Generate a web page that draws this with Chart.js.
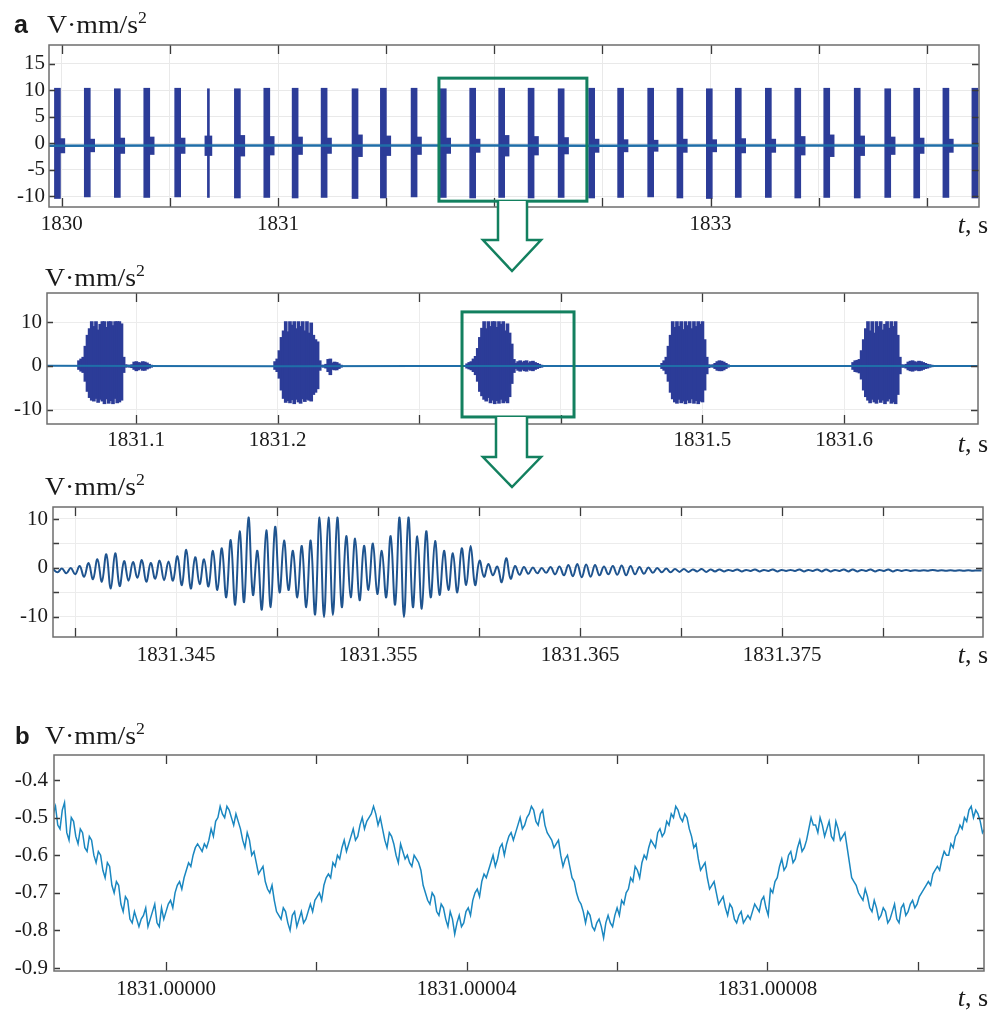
<!DOCTYPE html>
<html>
<head>
<meta charset="utf-8">
<script src="https://cdn.jsdelivr.net/npm/chart.js@4.4.1/dist/chart.umd.min.js"></script>
<style>
  html, body { margin: 0; background: #fff; }
  #wrap { position: relative; width: 1005px; height: 1010px; overflow: hidden; }
  canvas { position: absolute; left: 0; }
  svg { position: absolute; left: 0; top: 0; pointer-events: none; }
</style>
</head>
<body>
<div id="wrap">
  <canvas id="cA" width="1005" height="205" style="top:40px"></canvas>
  <canvas id="cB" width="1005" height="170" style="top:288px"></canvas>
  <canvas id="cC" width="1005" height="170" style="top:502px"></canvas>
  <canvas id="cD" width="1005" height="255" style="top:750px"></canvas>
  <svg width="1005" height="1010" font-family="'Liberation Serif', 'Times New Roman', serif" fill="#1a1a1a">
    <text x="14" y="33" font-family="'Liberation Sans', Arial, sans-serif" font-weight="bold" font-size="25">a</text>
    <text x="47" y="33" font-size="25" textLength="100" lengthAdjust="spacingAndGlyphs">V·mm/s<tspan dy="-10" font-size="16">2</tspan></text>
    <text x="45" y="286" font-size="25" textLength="100" lengthAdjust="spacingAndGlyphs">V·mm/s<tspan dy="-10" font-size="16">2</tspan></text>
    <text x="45" y="495" font-size="25" textLength="100" lengthAdjust="spacingAndGlyphs">V·mm/s<tspan dy="-10" font-size="16">2</tspan></text>
    <text x="15" y="744" font-family="'Liberation Sans', Arial, sans-serif" font-weight="bold" font-size="24">b</text>
    <text x="45" y="744" font-size="25" textLength="100" lengthAdjust="spacingAndGlyphs">V·mm/s<tspan dy="-10" font-size="16">2</tspan></text>
    <text x="988" y="233" font-size="26" text-anchor="end"><tspan font-style="italic">t</tspan>, s</text>
    <text x="988" y="452" font-size="26" text-anchor="end"><tspan font-style="italic">t</tspan>, s</text>
    <text x="988" y="663" font-size="26" text-anchor="end"><tspan font-style="italic">t</tspan>, s</text>
    <text x="988" y="1006" font-size="26" text-anchor="end"><tspan font-style="italic">t</tspan>, s</text>
    <path d="M498,201 L498,240 L483,240 L512,271 L541,240 L527,240 L527,201" fill="#fff" stroke="#13805f" stroke-width="2.5" stroke-linejoin="miter"/>
    <path d="M496,417 L496,457 L483,457 L512,487 L541,457 L527,457 L527,417" fill="#fff" stroke="#13805f" stroke-width="2.5" stroke-linejoin="miter"/>
  </svg>
</div>
<script>
// ---- panel a (top): overview, 1830..1834 s ----
const aXLabels = [1830, 1831, 1833];
const aBurstT = [1829.980, 1830.118, 1830.257, 1830.393, 1830.536, 1830.812, 1830.948, 1831.079,
  1831.213, 1831.356, 1831.487, 1831.629, 1831.764, 1831.900, 1832.034, 1832.170, 1832.309,
  1832.450, 1832.584, 1832.723, 1832.858, 1832.994, 1833.128, 1833.267, 1833.403, 1833.537,
  1833.678, 1833.819, 1833.953, 1834.088, 1834.222];
const aBurstHi = [10.4, 10.4, 10.3, 10.4, 10.4, 10.3, 10.4, 10.4, 10.4, 10.3, 10.4, 10.4, 10.3, 10.4, 10.4, 10.4,
  10.3, 10.4, 10.4, 10.4, 10.4, 10.3, 10.4, 10.4, 10.4, 10.4, 10.4, 10.3, 10.4, 10.4, 10.4];
const aBurstLo = [-10.4, -10.1, -10.2, -10.2, -10.1, -10.3, -10.2, -10.3, -10.2, -10.4, -10.3, -10.1, -10.2, -10.3,
  -10.2, -10.3, -10.2, -10.3, -10.2, -10.1, -10.3, -10.4, -10.2, -10.2, -10.3, -10.2, -10.3, -10.2, -10.3, -10.2, -10.3];
const aThinT = [1830.678];
const aThinHi = [10.3];
const aThinLo = [-10.2];
const aTailT = [1829.998, 1830.136, 1830.275, 1830.411, 1830.554, 1830.678, 1830.830, 1830.966, 1831.097,
  1831.231, 1831.374, 1831.505, 1831.647, 1831.782, 1831.918, 1832.052, 1832.188, 1832.327, 1832.468,
  1832.602, 1832.741, 1832.876, 1833.012, 1833.146, 1833.285, 1833.421, 1833.555, 1833.696, 1833.837,
  1833.971, 1834.106];
const aTailHi = [0.9, 0.8, 1.0, 1.2, 1.0, 1.4, 1.5, 1.3, 1.2, 1.0, 1.6, 1.4, 1.2, 1.0, 0.8, 1.5, 1.3, 1.1, 0.8, 0.7,
  0.6, 0.8, 0.7, 0.9, 0.8, 1.3, 1.6, 1.4, 1.2, 1.0, 0.8];
const aTailLo = [-1.8, -1.6, -1.9, -2.1, -1.9, -2.3, -2.4, -2.2, -2.1, -1.9, -2.5, -2.3, -2.1, -1.9, -1.7, -2.4,
  -2.2, -2.0, -1.7, -1.6, -1.5, -1.7, -1.6, -1.8, -1.7, -2.2, -2.5, -2.3, -2.1, -1.9, -1.7];
const aBaseT = [1829.94, 1830.5, 1831, 1831.5, 1832, 1832.5, 1833, 1833.5, 1834, 1834.25];
const aBaseV = [-0.45, -0.4, -0.42, -0.38, -0.4, -0.43, -0.4, -0.38, -0.42, -0.4];
const aBoxT = [1831.744, 1832.428];
const aBoxV = [-10.9, 12.3];

// ---- panel a (middle): five bursts ----
const bXLabels = [1831.1, 1831.2, 1831.5, 1831.6];
const bYLabels = [10, 0, -10];
const bBurstStart = [1831.0597, 1831.1982, 1831.3338, 1831.4715, 1831.6064];
const bStep = 0.0015;
const bBurstHi = [
  [1.2, 1.6, 2.0, 4.5, 7.0, 8.5, 10.1, 9.0, 10.1, 8.2, 9.5, 10.1, 10.1, 8.8, 10.1, 10.1, 9.2, 10.1, 10.1, 10.1, 9.6, 2.0,
   0.3, 0.2, 0.2, 0.3, 0.9, 1.0, 0.8, 0.7, 1.0, 0.9, 0.7, 0.4, 0.2],
  [1.0, 1.6, 3.5, 6.5, 8.0, 10.1, 7.8, 10.1, 9.3, 10.1, 8.5, 10.1, 9.0, 10.1, 8.0, 10.1, 7.5, 9.8, 7.0, 6.0, 5.5, 1.2,
   0.2, 0.2, 0.4, 1.5, 1.6, 0.7, 0.9, 0.8, 0.5, 0.2],
  [0.5, 0.8, 1.0, 1.6, 2.2, 4.0, 6.5, 8.6, 10.1, 8.5, 10.1, 9.0, 10.1, 10.1, 8.8, 10.1, 9.5, 10.1, 8.0, 9.6, 7.5, 5.0,
   1.5, 0.6, 1.0, 1.2, 0.8, 1.1, 1.2, 0.7, 1.0, 1.1, 0.8, 0.6, 0.4, 0.2],
  [0.6, 1.2, 2.0, 4.5, 7.0, 10.1, 8.8, 10.1, 9.0, 10.1, 8.3, 10.1, 9.2, 10.1, 8.5, 10.1, 9.0, 10.1, 9.5, 10.1, 6.0, 2.0,
   0.3, 0.2, 0.3, 0.6, 1.0, 1.2, 1.1, 0.9, 0.6, 0.3],
  [0.8, 1.2, 1.3, 1.5, 3.5, 6.0, 8.5, 10.1, 8.0, 10.1, 7.5, 10.1, 9.0, 10.1, 8.2, 9.5, 10.1, 8.6, 10.1, 9.0, 10.1, 7.0,
   2.0, 0.3, 0.2, 0.4, 0.9, 1.1, 1.2, 1.0, 0.8, 1.1, 1.0, 0.8, 0.6, 0.4, 0.3, 0.2],
];
const bBurstLo = [
  [-0.8, -1.2, -1.5, -3.5, -5.8, -7.2, -7.8, -8.0, -7.4, -8.3, -7.6, -8.0, -8.6, -7.5, -8.5, -7.9, -8.6, -7.4, -8.4, -8.2,
   -7.8, -1.5, -0.3, -0.2, -0.3, -0.4, -0.8, -1.1, -0.9, -0.6, -1.0, -1.0, -0.7, -0.5, -0.3],
  [-0.8, -1.3, -2.8, -5.5, -7.4, -8.3, -7.9, -8.4, -7.7, -8.6, -7.6, -8.2, -8.5, -7.5, -8.1, -7.6, -7.8, -8.0, -6.5, -6.0,
   -5.2, -1.0, -0.2, -0.3, -0.5, -1.3, -2.0, -0.8, -0.9, -0.9, -0.6, -0.3],
  [-0.5, -0.7, -0.9, -1.3, -2.0, -3.5, -5.8, -6.8, -7.6, -8.0, -7.2, -8.4, -7.8, -8.6, -7.9, -8.5, -7.6, -8.4, -8.0, -8.4,
   -7.0, -4.0, -1.5, -0.6, -1.0, -1.2, -0.8, -1.1, -1.2, -0.8, -1.0, -1.1, -0.8, -0.6, -0.4, -0.3],
  [-0.6, -1.0, -1.8, -3.5, -6.0, -7.5, -8.2, -8.5, -7.6, -8.4, -8.0, -8.6, -7.8, -8.4, -7.5, -8.5, -7.9, -8.6, -8.0, -8.2,
   -5.5, -1.8, -0.4, -0.2, -0.3, -0.6, -1.0, -1.1, -1.1, -0.9, -0.6, -0.3],
  [-0.8, -1.3, -1.4, -1.6, -3.0, -5.5, -7.0, -7.8, -8.4, -7.6, -8.2, -8.5, -7.6, -8.3, -7.8, -8.6, -8.0, -7.5, -8.5, -8.2,
   -8.6, -6.5, -1.8, -0.3, -0.3, -0.5, -0.9, -1.1, -1.2, -1.0, -0.9, -1.1, -1.0, -0.8, -0.6, -0.5, -0.3, -0.2],
];
const bBaseT = [1831.037, 1831.1, 1831.2, 1831.3, 1831.4, 1831.5, 1831.6, 1831.695];
const bBaseV = [0.05, 0, -0.05, 0.02, 0, -0.03, 0.02, 0];
const bBoxT = [1831.3302, 1831.4093];
const bBoxV = [-11.6, 12.3];

// ---- panel a (bottom): one burst, half-cycle extremes ----
const cXLabels = [1831.345, 1831.355, 1831.365, 1831.375];
const cYLabels = [10, 0, -10];
const cT0 = 1831.3389;
const cStep = 0.00022;
const cV = [
  -0.2, -0.9, -0.1, -1.1, 0.0, -1.3, 0.4, -1.8, 1.0, -2.3,
  1.8, -2.8, 2.8, -4.2, 3.0, -3.7, 1.4, -2.6, 1.2, -2.0,
  1.6, -2.8, 1.0, -2.2, 1.5, -2.5, 1.3, -2.6, 2.4, -3.5,
  3.7, -4.2, 2.2, -3.3, 1.8, -3.8, 3.5, -4.5, 4.0, -6.0,
  5.7, -7.5, 7.5, -7.0, 10.3, -5.5, 3.5, -8.5, 7.7, -8.0,
  8.4, -5.0, 5.6, -4.5, 3.5, -6.0, 4.5, -8.0, 5.6, -9.5,
  10.3, -10.0, 10.3, -9.6, 10.3, -8.0, 6.5, -6.0, 6.0, -6.6,
  4.5, -4.5, 5.0, -5.3, 3.5, -6.0, 6.5, -7.5, 10.3, -10.0,
  10.3, -8.0, 6.5, -8.3, 7.5, -6.0, 5.5, -5.5, 3.5, -4.5,
  3.0, -5.0, 4.0, -3.5, 4.5, -3.5, 1.5, -1.8, 0.8, -1.5,
  0.3, -2.9, 2.0, -2.2, 0.4, -1.4, 0.2, -1.2, 0.1, -1.1,
  0.0, -1.0, 0.2, -1.3, 0.3, -1.5, 0.6, -1.7, 0.8, -1.9,
  0.7, -1.8, 0.6, -1.5, 0.3, -1.3, 0.4, -1.4, 0.5, -1.5,
  0.4, -1.3, 0.2, -1.2, 0.1, -1.0, 0.0, -0.9, -0.1, -0.9,
  -0.2, -0.8, -0.2, -0.8, -0.3, -0.7, -0.2, -0.8, -0.3, -0.7,
  -0.3, -0.7, -0.4, -0.6, -0.3, -0.7, -0.4, -0.6, -0.3, -0.7,
  -0.4, -0.6, -0.3, -0.7, -0.4, -0.6, -0.4, -0.6, -0.3, -0.7,
  -0.4, -0.6, -0.3, -0.7, -0.3, -0.7, -0.4, -0.6, -0.3, -0.7,
  -0.3, -0.7, -0.4, -0.6, -0.3, -0.7, -0.4, -0.6, -0.3, -0.7,
  -0.4, -0.6, -0.4, -0.6, -0.45, -0.55, -0.45, -0.55, -0.4, -0.55,
  -0.45, -0.55, -0.45, -0.55, -0.45, -0.55, -0.45, -0.55, -0.5, -0.5,
];

// ---- panel b: time in microseconds after 1831 s, one sample every 0.3 us ----
const dXLabels = [0, 40, 80];
const dT0 = -15;
const dStep = 0.3;
const dV = [
  -0.49, -0.47, -0.52, -0.53, -0.48, -0.46, -0.54, -0.56, -0.50, -0.51, -0.55, -0.57, -0.53, -0.54, -0.58, -0.59, -0.55, -0.56, -0.60, -0.62,
  -0.59, -0.60, -0.64, -0.66, -0.62, -0.63, -0.68, -0.70, -0.67, -0.68, -0.73, -0.75, -0.71, -0.72, -0.77, -0.78, -0.75, -0.77, -0.79, -0.77,
  -0.76, -0.74, -0.79, -0.77, -0.75, -0.73, -0.78, -0.79, -0.74, -0.77, -0.75, -0.73, -0.72, -0.74, -0.70, -0.68, -0.67, -0.69, -0.66, -0.64,
  -0.62, -0.63, -0.60, -0.58, -0.57, -0.58, -0.59, -0.57, -0.58, -0.56, -0.53, -0.55, -0.51, -0.50, -0.47, -0.49, -0.50, -0.47, -0.48, -0.50,
  -0.52, -0.49, -0.51, -0.53, -0.56, -0.58, -0.54, -0.56, -0.60, -0.59, -0.62, -0.65, -0.64, -0.63, -0.67, -0.69, -0.70, -0.68, -0.72, -0.75,
  -0.76, -0.77, -0.74, -0.75, -0.78, -0.80, -0.76, -0.75, -0.79, -0.77, -0.75, -0.78, -0.77, -0.75, -0.73, -0.75, -0.72, -0.71, -0.70, -0.72,
  -0.68, -0.66, -0.65, -0.66, -0.62, -0.63, -0.60, -0.61, -0.58, -0.56, -0.59, -0.57, -0.55, -0.53, -0.56, -0.55, -0.52, -0.50, -0.53, -0.51,
  -0.50, -0.49, -0.47, -0.49, -0.52, -0.50, -0.53, -0.56, -0.58, -0.54, -0.55, -0.57, -0.60, -0.62, -0.57, -0.59, -0.61, -0.60, -0.62, -0.63,
  -0.60, -0.61, -0.62, -0.64, -0.68, -0.70, -0.72, -0.73, -0.70, -0.71, -0.75, -0.76, -0.73, -0.74, -0.77, -0.79, -0.75, -0.77, -0.81, -0.78,
  -0.76, -0.79, -0.78, -0.75, -0.74, -0.76, -0.72, -0.70, -0.69, -0.71, -0.67, -0.65, -0.66, -0.64, -0.62, -0.60, -0.63, -0.61, -0.58, -0.57,
  -0.60, -0.57, -0.55, -0.54, -0.56, -0.54, -0.52, -0.50, -0.53, -0.52, -0.50, -0.49, -0.47, -0.48, -0.51, -0.52, -0.49, -0.48, -0.52, -0.54,
  -0.55, -0.56, -0.58, -0.57, -0.56, -0.60, -0.63, -0.61, -0.60, -0.63, -0.66, -0.67, -0.70, -0.72, -0.73, -0.75, -0.78, -0.75, -0.76, -0.79,
  -0.80, -0.78, -0.77, -0.79, -0.82, -0.78, -0.76, -0.78, -0.79, -0.76, -0.74, -0.76, -0.72, -0.73, -0.70, -0.69, -0.66, -0.67, -0.63, -0.64,
  -0.66, -0.62, -0.60, -0.61, -0.58, -0.56, -0.57, -0.58, -0.54, -0.53, -0.55, -0.54, -0.51, -0.52, -0.49, -0.50, -0.47, -0.48, -0.50, -0.51,
  -0.49, -0.50, -0.53, -0.55, -0.58, -0.57, -0.61, -0.64, -0.63, -0.62, -0.66, -0.69, -0.68, -0.67, -0.70, -0.73, -0.72, -0.71, -0.74, -0.76,
  -0.73, -0.74, -0.77, -0.78, -0.76, -0.75, -0.78, -0.77, -0.76, -0.77, -0.75, -0.73, -0.74, -0.75, -0.72, -0.71, -0.74, -0.76, -0.69, -0.70,
  -0.67, -0.66, -0.63, -0.61, -0.64, -0.63, -0.60, -0.59, -0.62, -0.61, -0.58, -0.56, -0.59, -0.58, -0.56, -0.53, -0.50, -0.52, -0.52, -0.54,
  -0.50, -0.52, -0.55, -0.53, -0.51, -0.55, -0.56, -0.51, -0.53, -0.56, -0.55, -0.54, -0.58, -0.62, -0.66, -0.67, -0.68, -0.70, -0.71, -0.72,
  -0.69, -0.71, -0.74, -0.75, -0.72, -0.74, -0.77, -0.76, -0.74, -0.75, -0.78, -0.77, -0.75, -0.73, -0.77, -0.78, -0.74, -0.73, -0.76, -0.75,
  -0.73, -0.72, -0.74, -0.73, -0.71, -0.70, -0.69, -0.68, -0.67, -0.68, -0.65, -0.64, -0.63, -0.64, -0.61, -0.59, -0.60, -0.60, -0.57, -0.58,
  -0.55, -0.54, -0.52, -0.53, -0.50, -0.51, -0.48, -0.47, -0.50, -0.48, -0.49, -0.51, -0.54, -0.53, -0.55,
];

const SERIF = "'Liberation Serif', 'Times New Roman', serif";
const INK = '#1a1a1a';
const NAVY = '#2c3c98';
const TEAL = '#1f6ea8';
const GREEN = '#13805f';

const near = (list, v) => list.some(l => Math.abs(l - v) < 1e-7);

// frame, inward tick marks and the optional green zoom box
const framePlugin = {
  id: 'frame',
  afterDatasetsDraw(chart, args, opts) {
    const { ctx, chartArea: a, scales: { x, y } } = chart;
    ctx.save();
    ctx.strokeStyle = '#3a3a3a';
    ctx.lineWidth = 1.3;
    ctx.beginPath();
    for (const t of x.ticks) {
      const px = Math.round(x.getPixelForValue(t.value)) + 0.5;
      ctx.moveTo(px, a.top); ctx.lineTo(px, a.top + 9);
      ctx.moveTo(px, a.bottom); ctx.lineTo(px, a.bottom - 9);
    }
    for (const t of y.ticks) {
      const py = Math.round(y.getPixelForValue(t.value)) + 0.5;
      ctx.moveTo(a.left, py); ctx.lineTo(a.left + 6, py);
      ctx.moveTo(a.right, py); ctx.lineTo(a.right - 7, py);
    }
    ctx.stroke();
    ctx.strokeStyle = '#6e6e6e';
    ctx.lineWidth = 1.5;
    ctx.strokeRect(a.left, a.top, a.width, a.height);
    if (opts.box) {
      const x0 = x.getPixelForValue(opts.box.t[0]), x1 = x.getPixelForValue(opts.box.t[1]);
      const y0 = y.getPixelForValue(opts.box.v[1]), y1 = y.getPixelForValue(opts.box.v[0]);
      ctx.strokeStyle = GREEN;
      ctx.lineWidth = 3;
      ctx.strokeRect(x0, y0, x1 - x0, y1 - y0);
    }
    ctx.restore();
  },
};

function panel(id, o) {
  return new Chart(document.getElementById(id), {
    type: 'line',
    data: { datasets: o.datasets },
    options: {
      responsive: false,
      animation: false,
      events: [],
      layout: { padding: { top: 5, right: o.padRight, left: 0, bottom: 0 } },
      plugins: { legend: { display: false }, tooltip: { enabled: false }, frame: { box: o.box } },
      scales: {
        x: {
          type: 'linear', min: o.xMin, max: o.xMax, offset: false,
          // fixed axis band, no extra room for overhanging end labels
          afterFit: s => { s.height = o.xH; s.paddingLeft = 0; s.paddingRight = 0; },
          grid: { color: o.grid, drawTicks: false, offset: false },
          border: { display: false },
          ticks: {
            stepSize: o.xStep, includeBounds: false, autoSkip: false, maxRotation: 0,
            padding: o.xPad, color: INK, font: { family: SERIF, size: 21 }, callback: o.xLabel,
          },
        },
        y: {
          min: o.yMin, max: o.yMax,
          afterFit: s => { s.width = o.yW; s.paddingTop = 0; s.paddingBottom = 0; },
          grid: { color: o.grid, drawTicks: false },
          border: { display: false },
          ticks: {
            stepSize: o.yStep, includeBounds: false, padding: o.yPad,
            color: INK, font: { family: SERIF, size: 21 }, callback: o.yLabel,
          },
        },
      },
    },
    plugins: [framePlugin],
  });
}

const bars = (ts, his, los) => ts.map((t, i) => ({ x: t, y: [los[i], his[i]] }));
const line = (ts, vs) => ts.map((t, i) => ({ x: t, y: vs[i] }));

// panel a, top
panel('cA', {
  padRight: 26, xH: 38, yW: 49, xPad: 5, yPad: 4, grid: '#e9e9e9',
  xMin: 1829.941, xMax: 1834.241, xStep: 0.5,
  yMin: -12.0, yMax: 18.55, yStep: 5,
  xLabel: v => near(aXLabels, v) ? String(v) : '',
  yLabel: v => String(v),
  box: { t: aBoxT, v: aBoxV },
  datasets: [
    { data: line(aBaseT, aBaseV), borderColor: TEAL, borderWidth: 2.5, pointRadius: 0 },
    { type: 'bar', data: bars(aTailT, aTailHi, aTailLo), backgroundColor: NAVY, barThickness: 7, grouped: false },
    { type: 'bar', data: bars(aBurstT, aBurstHi, aBurstLo), backgroundColor: NAVY, barThickness: 6, grouped: false },
    { type: 'bar', data: bars(aThinT, aThinHi, aThinLo), backgroundColor: NAVY, barThickness: 2, grouped: false },
  ],
});

// panel a, middle
const bBars = [];
bBurstStart.forEach((t0, k) => {
  bBurstHi[k].forEach((hi, i) => bBars.push({ x: t0 + i * bStep, y: [bBurstLo[k][i], hi] }));
});
panel('cB', {
  padRight: 27, xH: 34, yW: 47, xPad: 4, yPad: 5, grid: '#ececec',
  xMin: 1831.0371, xMax: 1831.6946, xStep: 0.1,
  yMin: -13.2, yMax: 16.6, yStep: 5,
  xLabel: v => near(bXLabels, v) ? v.toFixed(1) : '',
  yLabel: v => near(bYLabels, v) ? String(v) : '',
  box: { t: bBoxT, v: bBoxV },
  datasets: [
    { data: line(bBaseT, bBaseV), borderColor: TEAL, borderWidth: 2, pointRadius: 0 },
    { type: 'bar', data: bBars, backgroundColor: NAVY, barThickness: 3, grouped: false },
  ],
});

// panel a, bottom
panel('cC', {
  padRight: 22, xH: 35, yW: 53, xPad: 6, yPad: 5, grid: '#ececec',
  xMin: 1831.3389, xMax: 1831.38495, xStep: 0.005,
  yMin: -14.1, yMax: 12.45, yStep: 5,
  xLabel: v => near(cXLabels, v) ? v.toFixed(3) : '',
  yLabel: v => near(cYLabels, v) ? String(v) : '',
  datasets: [
    {
      data: cV.map((v, i) => ({ x: cT0 + i * cStep, y: v })),
      borderColor: '#1f548f', borderWidth: 2, pointRadius: 0, tension: 0.4,
    },
  ],
});

// panel b
panel('cD', {
  padRight: 21, xH: 34, yW: 54, xPad: 6, yPad: 6, grid: 'rgba(0,0,0,0)',
  xMin: -14.9, xMax: 108.8, xStep: 20,
  yMin: -0.908, yMax: -0.3335, yStep: 0.1,
  xLabel: v => near(dXLabels, v) ? (1831 + v * 1e-6).toFixed(5) : '',
  yLabel: v => v.toFixed(1),
  datasets: [
    {
      data: dV.map((v, i) => ({ x: dT0 + i * dStep, y: v })),
      borderColor: '#1a87c0', borderWidth: 1.5, pointRadius: 0, tension: 0,
    },
  ],
});
</script>
</body>
</html>
